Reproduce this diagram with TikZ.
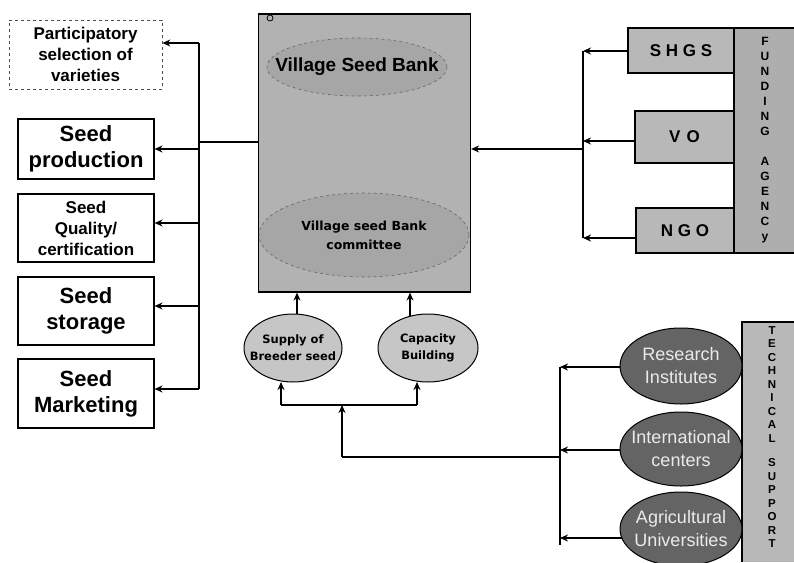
\documentclass[tikz,border=0pt]{standalone}
\usepackage{fontspec}
\setmainfont{Liberation Sans}
\newfontfamily\oddfont{DejaVu Sans}
\usetikzlibrary{arrows.meta,shapes.geometric}
\definecolor{vsbfill}{RGB}{178,178,178}
\definecolor{vsbell}{RGB}{166,166,166}
\definecolor{boxfill}{RGB}{184,184,184}
\definecolor{colfill}{RGB}{174,174,174}
\definecolor{supfill}{RGB}{198,198,198}
\definecolor{techfill}{RGB}{100,100,100}
\definecolor{techtext}{RGB}{235,235,235}
\begin{document}
\begin{tikzpicture}[x=1pt,y=-1pt,
  leftbox/.style={draw, line width=1.1pt, minimum width=136pt, inner sep=0pt, align=center,
    font=\bfseries\fontsize{22}{26}\selectfont},
  smallbox/.style={leftbox, font=\bfseries\fontsize{17}{21}\selectfont},
  arr/.style={line width=1.4pt, -{Stealth[length=8pt,width=7pt]}},
  conn/.style={line width=1.1pt},
  shbox/.style={draw, line width=1.1pt, fill=boxfill, inner sep=0pt, font=\bfseries\fontsize{17}{19}\selectfont},
  colbox/.style={fill=colfill, inner sep=0pt},
  vtext/.style={inner sep=0pt, align=center, anchor=north},
  inell/.style={ellipse, draw=black!60, dashed, line width=0.6pt, fill=vsbell, inner sep=0pt},
  supell/.style={ellipse, draw, line width=1pt, fill=supfill, inner sep=0pt},
  techell/.style={ellipse, draw, line width=1pt, fill=techfill, inner sep=0pt},
  oddtxt/.style={align=center, font=\oddfont\bfseries\fontsize{11.5}{17}\selectfont},
  techtxt/.style={align=center, text=techtext, font=\fontsize{18}{23}\selectfont}
]
\useasboundingbox (0,0) rectangle (794,562);

% ---------- left column ----------
\node[smallbox, draw=black!70, dashed, line width=0.7pt, minimum width=153pt, minimum height=69pt] (part) at (85.5,54.5) {Participatory\\selection of\\varieties};
\node[leftbox, minimum height=60pt] (prod) at (86,149) {Seed\\production};
\node[smallbox, minimum height=68pt] (qual) at (86,228) {Seed\\Quality/\\certification};
\node[leftbox, minimum height=68pt] (stor) at (86,311) {Seed\\storage};
\node[leftbox, minimum height=69pt] (mkt) at (86,393.5) {Seed\\Marketing};

\coordinate (lb1) at (199,43);
\coordinate (lb2) at (199,149);
\coordinate (lb3) at (199,223);
\coordinate (lb4) at (199,306);
\coordinate (lb5) at (199,389);
\coordinate (lbm) at (199,142);
\draw[conn] (lb1) -- (lb5);
\draw[arr] (lb1) -- (lb1 -| part.east);
\draw[arr] (lb2) -- (lb2 -| prod.east);
\draw[arr] (lb3) -- (lb3 -| qual.east);
\draw[arr] (lb4) -- (lb4 -| stor.east);
\draw[arr] (lb5) -- (lb5 -| mkt.east);

% ---------- village seed bank ----------
\node[draw, line width=1.2pt, fill=vsbfill, minimum width=212pt, minimum height=278pt, inner sep=0pt] (vsb) at (364.5,153) {};
\draw[line width=0.8pt] (270,18) circle (3pt);
\node[inell, minimum width=180pt, minimum height=58pt,
  label={[font=\bfseries\fontsize{19}{22}\selectfont]center:Village Seed Bank}] (vsbt) at (357,67) {};
\node[inell, minimum width=210pt, minimum height=84pt,
  label={[oddtxt, font=\oddfont\bfseries\fontsize{12.5}{19}\selectfont]center:Village seed Bank\\committee}] (vsbc) at (364,235) {};
\draw[conn] (vsb.west |- lbm) -- (lbm);

% ---------- funding side ----------
\fill[colfill] (734,28) rectangle (794,253);
\draw[line width=1.1pt] (794,28) -- (734,28) -- (734,253) -- (794,253);
\node[shbox, minimum width=106pt, minimum height=45pt] (shgs) at (681,50.5) {S H G S};
\node[shbox, minimum width=99pt, minimum height=52pt] (vo) at (684.5,137) {V\hspace{6pt}O};
\node[shbox, minimum width=98pt, minimum height=45pt] (ngo) at (685,230.5) {N G O};
\node[vtext, font=\bfseries\fontsize{12}{15}\selectfont] (fund) at (765,37)
  {F\\U\\N\\D\\I\\N\\G\\[15pt]A\\G\\E\\N\\C\\y};

\coordinate (rb1) at (583,51);
\coordinate (rb2) at (583,141);
\coordinate (rb3) at (583,238);
\coordinate (rbm) at (583,149);
\draw[conn] (rb1) -- (rb3);
\draw[arr] (shgs.west |- rb1) -- (rb1);
\draw[arr] (vo.west |- rb2) -- (rb2);
\draw[arr] (ngo.west |- rb3) -- (rb3);
\draw[arr] (rbm) -- (rbm -| vsb.east);

% ---------- bottom ellipses ----------
\node[supell, minimum width=98pt, minimum height=68pt,
  label={[oddtxt]center:Supply of\\Breeder seed}] (sup) at (293,348) {};
\node[supell, minimum width=100pt, minimum height=68pt,
  label={[oddtxt]center:Capacity\\Building}] (cap) at (428,348) {};
\coordinate (su1) at (297,314);
\coordinate (su2) at (410,316);
\draw[arr] (su1) -- (su1 |- vsb.south);
\draw[arr] (su2) -- (su2 |- vsb.south);

\coordinate (bl) at (281,405);
\coordinate (br) at (417,405);
\coordinate (bm) at (342,405);
\coordinate (bmd) at (342,457);
\draw[conn] (bl) -- (br);
\draw[arr] (bl) -- (281,382);
\draw[arr] (br) -- (417,382);

% ---------- technical side ----------
\fill[boxfill] (742,322) rectangle (794,562);
\draw[line width=1.1pt] (794,322) -- (742,322) -- (742,562);
\node[techell, minimum width=122pt, minimum height=76pt,
  label={[techtxt]center:Research\\Institutes}] (ri) at (681,366) {};
\node[techell, minimum width=122pt, minimum height=74pt,
  label={[techtxt]center:International\\centers}] (ic) at (681,449) {};
\node[techell, minimum width=122pt, minimum height=74pt,
  label={[techtxt]center:Agricultural\\Universities}] (au) at (681,529) {};
\node[vtext, font=\bfseries\fontsize{11.5}{13.5}\selectfont] (tech) at (772,326)
  {T\\E\\C\\H\\N\\I\\C\\A\\L\\[11pt]S\\U\\P\\P\\O\\R\\T};

\coordinate (tb1) at (560,367);
\coordinate (tb2) at (560,450);
\coordinate (tb3) at (560,538);
\coordinate (tbm) at (560,457);
\draw[conn] (tb1) -- (560,545);
\draw[arr] (ri.west |- tb1) -- (tb1);
\draw[arr] (ic.west |- tb2) -- (tb2);
\draw[arr] (622,538) -- (tb3);
\draw[conn] (tbm) -- (bmd);
\draw[arr] (bmd) -- (bm);
\end{tikzpicture}
\end{document}
